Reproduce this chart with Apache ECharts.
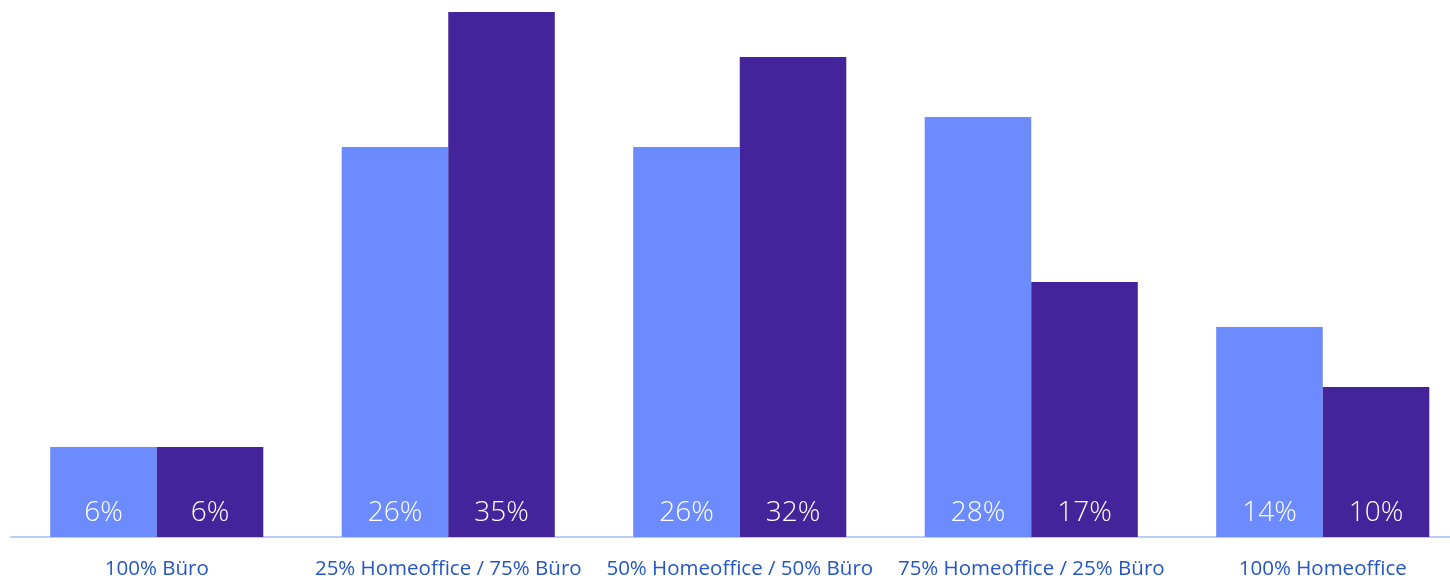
<!DOCTYPE html>
<html>
<head>
<meta charset="utf-8">
<script src="https://cdn.jsdelivr.net/npm/echarts@6/dist/echarts.min.js"></script>
<style>
  html, body { margin: 0; padding: 0; background: #ffffff; }
  #chart { width: 1450px; height: 580px; }
</style>
</head>
<body>
<div id="chart"></div>
<script>
// Arbeitsmodell-Kategorien und Anteile (in %) der beiden Gruppen
const categories = [
  '100% Büro',
  '25% Homeoffice / 75% Büro',
  '50% Homeoffice / 50% Büro',
  '75% Homeoffice / 25% Büro',
  '100% Homeoffice'
];
const seriesA = [6, 26, 26, 28, 14];
const seriesB = [6, 35, 32, 17, 10];

const labelStyle = {
  show: true,
  position: 'insideBottom',
  distance: 10,
  color: '#ffffff',
  fontFamily: 'Open Sans',
  fontWeight: 300,
  fontSize: 28,
  formatter: p => p.value + '%'
};

const chart = echarts.init(document.getElementById('chart'), null, { renderer: 'canvas' });
chart.setOption({
  animation: false,
  grid: {
    left: 11, top: 12, bottom: 43, right: -18.5,
    containLabel: false,
    outerBoundsMode: 'none'
  },
  xAxis: {
    type: 'category',
    data: categories,
    axisLine: { lineStyle: { color: '#b9cdf7', width: 2 } },
    axisTick: { show: false },
    axisLabel: {
      color: '#2456c6',
      fontFamily: 'Open Sans',
      fontSize: 20.5,
      margin: 22,
      interval: 0
    }
  },
  yAxis: {
    type: 'value',
    min: 0,
    max: 35,
    show: false,
    splitLine: { show: false }
  },
  series: [
    {
      type: 'bar',
      data: seriesA,
      barGap: '0%',
      barCategoryGap: '26.9%',
      itemStyle: { color: '#6b8bff' },
      label: labelStyle
    },
    {
      type: 'bar',
      data: seriesB,
      itemStyle: { color: '#43249a' },
      label: labelStyle
    }
  ]
});
</script>
</body>
</html>
